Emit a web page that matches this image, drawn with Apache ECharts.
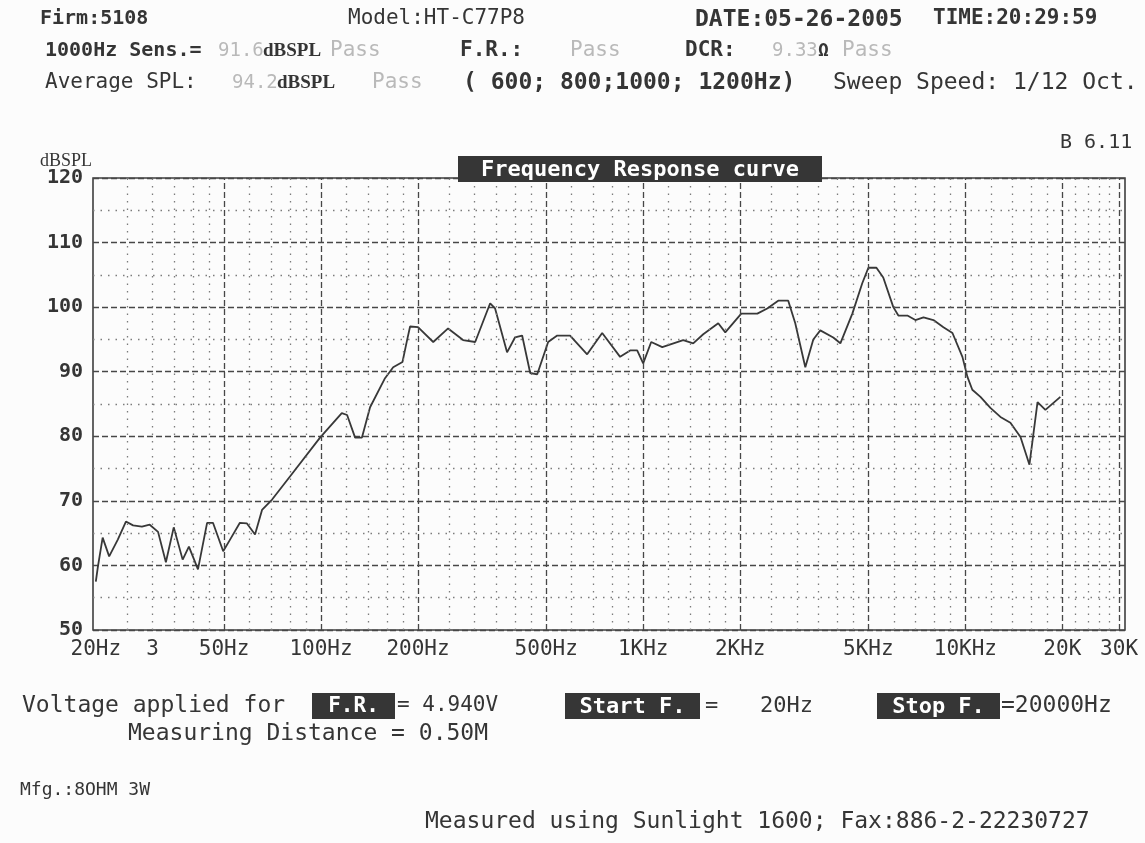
<!DOCTYPE html>
<html>
<head>
<meta charset="utf-8">
<script src="https://cdn.jsdelivr.net/npm/echarts@6/dist/echarts.min.js"></script>
<style>html,body{margin:0;padding:0;background:#fcfcfc;}#c{width:1145px;height:843px;}</style>
</head>
<body>
<div id="c"></div>
<script>
// ---- data ----
const freqHz = [
  20, 20.3, 21, 22, 23.4, 24.8, 26.1, 27.8, 29.4, 31.2,
  33, 34.9, 37.2, 38.9, 40, 41.5, 44.3, 46.2, 49.7, 52.2,
  56, 58.9, 62.4, 65.6, 70.5, 81.9, 99.3, 116, 120.5, 127.6,
  134, 142, 158, 167.5, 179, 185, 189, 200, 223, 248,
  276, 301, 335, 347, 378, 400, 421, 446, 469, 507,
  541, 593, 670, 746, 848, 911, 958, 1000, 1059, 1146,
  1331, 1430, 1536, 1710, 1798, 2016, 2261, 2427, 2625, 2820,
  2965, 3186, 3373, 3546, 3890, 4093, 4459, 4786, 5000, 5297,
  5561, 5976, 6196, 6607, 6997, 7413, 7960, 8550, 9120, 9792,
  10150, 10510, 11140, 11960, 12850, 13800, 14830, 15810, 16750, 17720,
  19720
];
const splDb = [
  57.5, 59.8, 64.3, 61.4, 64.0, 66.8, 66.2, 66.0, 66.3, 65.2,
  60.5, 65.9, 60.9, 62.9, 61.4, 59.4, 66.6, 66.6, 62.2, 64.0,
  66.6, 66.5, 64.8, 68.6, 70.2, 74.4, 79.8, 83.6, 83.3, 79.8,
  79.8, 84.5, 89.0, 90.7, 91.5, 94.9, 97.0, 96.9, 94.6, 96.7,
  94.9, 94.6, 100.6, 99.8, 93.0, 95.3, 95.6, 89.8, 89.6, 94.6,
  95.6, 95.6, 92.7, 96.0, 92.3, 93.3, 93.3, 91.3, 94.6, 93.8,
  94.9, 94.4, 95.8, 97.5, 96.1, 99.0, 99.0, 99.8, 101.0, 101.0,
  97.5, 90.7, 95.0, 96.4, 95.3, 94.4, 99.0, 103.7, 106.1, 106.1,
  104.6, 100.0, 98.7, 98.7, 98.0, 98.4, 98.0, 96.9, 96.0, 92.3,
  89.2, 87.2, 86.1, 84.4, 83.0, 82.1, 79.9, 75.6, 85.3, 84.1,
  86.1
];
// grid / tick values
const majorFreqs = [50, 100, 200, 500, 1000, 2000, 5000, 10000, 20000, 30000];
const minorFreqs = [25, 30, 35, 40, 45, 60, 70, 80, 90, 120, 140, 160, 180,
  250, 300, 350, 400, 450, 600, 700, 800, 900, 1200, 1400, 1600, 1800,
  2500, 3000, 3500, 4000, 4500, 6000, 7000, 8000, 9000,
  12000, 14000, 16000, 18000, 22000, 24000, 26000, 28000];
const xTickFreqs = [20, 30, 50, 100, 200, 500, 1000, 2000, 5000, 10000, 20000, 30000];
const xTickLabels = ['20Hz', '3', '50Hz', '100Hz', '200Hz', '500Hz', '1KHz', '2KHz', '5KHz', '10KHz', '20K', '30K'];
const yMin = 50, yMax = 120, yStep = 10;

const MONO = '"DejaVu Sans Mono", "Liberation Mono", monospace';
const SERIF = '"Liberation Serif", "DejaVu Serif", serif';
const INK = '#353535';
const PALE = '#b9b9b9';

const majorStyle = { color: '#474747', width: 1.3, type: [6, 3] };
const minorStyle = { color: '#7c7c7c', width: 1.3, type: [1.5, 6] };

const vLines = majorFreqs.map(f => ({ xAxis: f, lineStyle: majorStyle }))
  .concat(minorFreqs.map(f => ({ xAxis: f, lineStyle: minorStyle })));

function txt(text, x, y, size, opts) {
  opts = opts || {};
  return {
    type: 'text', x: x, y: y, z: 50,
    style: {
      text: text,
      font: (opts.weight || 'normal') + ' ' + size + 'px ' + (opts.family || MONO),
      fill: opts.fill || INK,
      textAlign: opts.align || 'left',
      textVerticalAlign: 'middle'
    }
  };
}
function box(label, x, y, w, h, size) {
  return [
    { type: 'rect', z: 49, shape: { x: x, y: y, width: w, height: h }, style: { fill: '#363636' } },
    txt(label, x + w / 2, y + h / 2 + 1, size, { fill: '#ffffff', align: 'center', weight: 'bold' })
  ];
}

const graphics = [
  txt('Firm:5108', 40, 19, 20, { weight: 'bold' }),
  txt('Model:HT-C77P8', 348, 19, 21),
  txt('DATE:05-26-2005', 695, 20, 23, { weight: 'bold' }),
  txt('TIME:20:29:59', 933, 19, 21, { weight: 'bold' }),

  txt('1000Hz Sens.=', 45, 51, 20, { weight: 'bold' }),
  txt('91.6', 218, 51, 19, { fill: PALE }),
  txt('dBSPL', 263, 51, 19, { family: SERIF, weight: 'bold' }),
  txt('Pass', 330, 51, 21, { fill: PALE }),
  txt('F.R.:', 460, 51, 21, { weight: 'bold' }),
  txt('Pass', 570, 51, 21, { fill: PALE }),
  txt('DCR:', 685, 51, 21, { weight: 'bold' }),
  txt('9.33', 772, 51, 19, { fill: PALE }),
  txt('\u03A9', 818, 51, 18, { weight: 'bold' }),
  txt('Pass', 842, 51, 21, { fill: PALE }),

  txt('Average SPL:', 45, 83, 21),
  txt('94.2', 232, 83, 19, { fill: PALE }),
  txt('dBSPL', 277, 83, 19, { family: SERIF, weight: 'bold' }),
  txt('Pass', 372, 83, 21, { fill: PALE }),
  txt('( 600; 800;1000; 1200Hz)', 463, 83, 23, { weight: 'bold' }),
  txt('Sweep Speed: 1/12 Oct.', 833, 83, 23),

  txt('B 6.11', 1060, 143, 20),
  txt('dBSPL', 40, 161, 18, { family: SERIF }),

  { type: 'rect', z: 49, shape: { x: 458, y: 156, width: 364, height: 26 }, style: { fill: '#363636' } },
  txt('Frequency Response curve', 640, 170, 22, { fill: '#ffffff', align: 'center', weight: 'bold' }),

  txt('Voltage applied for', 22, 706, 23),
].concat(box('F.R.', 312, 693, 83, 26, 21)).concat([
  txt('= 4.940V', 397, 706, 21),
]).concat(box('Start F.', 565, 693, 135, 26, 22)).concat([
  txt('=', 705, 706, 22),
  txt('20Hz', 760, 706, 22),
]).concat(box('Stop F.', 877, 693, 123, 26, 22)).concat([
  txt('=20000Hz', 1001, 706, 23),
  txt('Measuring Distance = 0.50M', 128, 734, 23),
  txt('Mfg.:8OHM 3W', 20, 790, 18),
  txt('Measured using Sunlight 1600; Fax:886-2-22230727', 425, 822, 23)
]);

const chart = echarts.init(document.getElementById('c'), null, { renderer: 'canvas' });
chart.setOption({
  backgroundColor: '#fcfcfc',
  animation: false,
  grid: { left: 93, top: 178, width: 1032, height: 452, show: true, borderColor: '#3e3e3e', borderWidth: 1.6, backgroundColor: 'transparent' },
  xAxis: {
    type: 'log', logBase: 10, min: 19.6, max: 31300,
    axisLine: { show: false }, axisTick: { show: false }, axisLabel: { show: false },
    splitLine: { show: false }, minorSplitLine: { show: false }
  },
  yAxis: {
    type: 'value', min: yMin, max: yMax, interval: yStep,
    axisLine: { show: false }, axisTick: { show: false },
    axisLabel: { color: INK, fontFamily: MONO, fontSize: 20, fontWeight: 'bold', margin: 10 },
    splitLine: { show: true, lineStyle: majorStyle },
    minorTick: { show: false, splitNumber: 2 },
    minorSplitLine: { show: true, lineStyle: minorStyle }
  },
  graphic: graphics,
  series: [
    {
      type: 'line', z: 1, data: [], silent: true,
      markLine: {
        silent: true, symbol: ['none', 'none'], animation: false,
        label: { show: false }, emphasis: { disabled: true },
        data: vLines
      }
    },
    {
      type: 'custom', z: 5, silent: true, clip: false,
      data: xTickFreqs.map((f, i) => [f, yMin, i]),
      encode: { x: 0, y: 1 },
      renderItem: function (params, api) {
        const p = api.coord([api.value(0), api.value(1)]);
        return {
          type: 'text', x: p[0], y: p[1] + 20,
          style: {
            text: xTickLabels[api.value(2)], font: 'normal 21px ' + MONO,
            fill: INK, textAlign: 'center', textVerticalAlign: 'middle'
          }
        };
      }
    },
    {
      type: 'line', z: 4, showSymbol: false, smooth: false, silent: true,
      lineStyle: { color: '#383838', width: 1.8 },
      data: freqHz.map((f, i) => [f, splDb[i]])
    }
  ]
});
</script>
</body>
</html>
